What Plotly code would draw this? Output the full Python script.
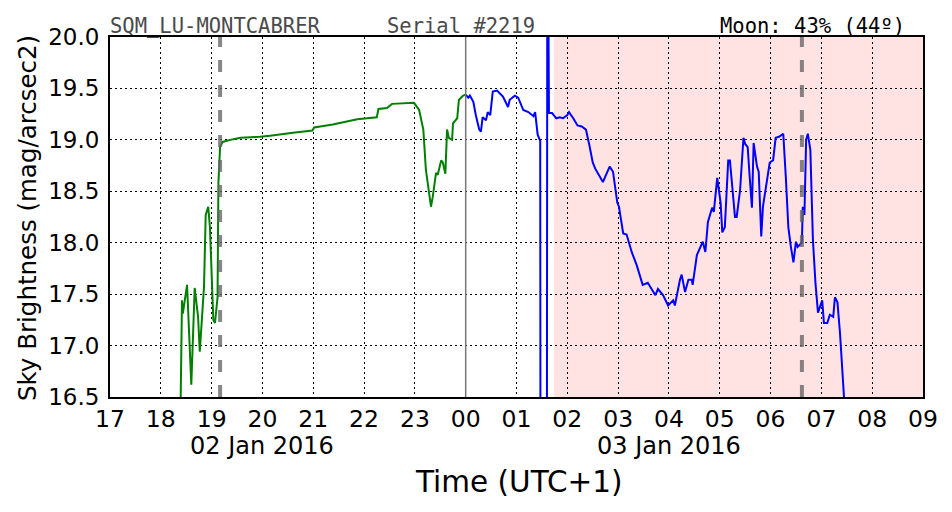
import plotly.graph_objects as go

# ---------------- data ----------------
green_times = ["2016-01-02 18:23", "2016-01-02 18:25", "2016-01-02 18:26", "2016-01-02 18:31",
               "2016-01-02 18:36", "2016-01-02 18:40", "2016-01-02 18:44", "2016-01-02 18:46",
               "2016-01-02 18:51", "2016-01-02 18:53", "2016-01-02 18:56", "2016-01-02 18:58",
               "2016-01-02 19:02", "2016-01-02 19:04", "2016-01-02 19:07", "2016-01-02 19:08",
               "2016-01-02 19:10", "2016-01-02 19:13", "2016-01-02 19:22", "2016-01-02 19:34",
               "2016-01-02 19:57", "2016-01-02 20:09", "2016-01-02 20:36", "2016-01-02 20:59",
               "2016-01-02 21:01", "2016-01-02 21:23", "2016-01-02 21:52", "2016-01-02 22:15",
               "2016-01-02 22:17", "2016-01-02 22:27", "2016-01-02 22:33", "2016-01-02 22:59",
               "2016-01-02 23:05", "2016-01-02 23:10", "2016-01-02 23:13", "2016-01-02 23:14",
               "2016-01-02 23:19", "2016-01-02 23:21", "2016-01-02 23:25", "2016-01-02 23:27",
               "2016-01-02 23:31", "2016-01-02 23:33", "2016-01-02 23:36", "2016-01-02 23:38",
               "2016-01-02 23:40", "2016-01-02 23:44", "2016-01-02 23:45", "2016-01-02 23:50",
               "2016-01-02 23:52", "2016-01-02 23:57", "2016-01-03 00:00"]
green_vals = [16.20, 17.44, 17.31, 17.59,
              16.62, 17.56, 17.28, 16.94,
              17.57, 18.27, 18.35, 18.15,
              17.25, 17.22, 17.47, 18.58,
              18.93, 18.98, 19.00, 19.02,
              19.03, 19.04, 19.07, 19.09,
              19.12, 19.15, 19.20, 19.22,
              19.30, 19.31, 19.35, 19.36,
              19.29, 19.10, 18.71, 18.64,
              18.35, 18.44, 18.68, 18.66,
              18.80, 18.78, 18.67, 19.10,
              19.02, 19.00, 19.16, 19.21,
              19.39, 19.43, 19.44]

blue_times = ["00:00", "00:03", "00:05", "00:09", "00:12", "00:16", "00:18", "00:20",
              "00:24", "00:26", "00:29", "00:32", "00:37", "00:44", "00:50", "00:52",
              "00:58", "01:02", "01:08", "01:14", "01:20", "01:22", "01:25", "01:28:00",
              "01:28:40", "01:35:30", "01:36:30", "01:38:20",
              "01:42", "01:47", "01:51", "01:55", "02:00", "02:02", "02:07", "02:12",
              "02:17", "02:22", "02:26", "02:30", "02:33", "02:39", "02:42", "02:50",
              "02:54", "02:59", "03:01", "03:06", "03:10", "03:16", "03:22", "03:29",
              "03:35", "03:44", "03:47", "03:53", "03:59", "04:05", "04:07", "04:13",
              "04:15", "04:19", "04:23", "04:27", "04:28", "04:33", "04:37", "04:40",
              "04:43", "04:46", "04:51", "04:53", "04:57", "04:59", "05:01", "05:03",
              "05:06", "05:10", "05:12", "05:18", "05:20", "05:24", "05:28", "05:30",
              "05:33", "05:35", "05:38", "05:40", "05:44", "05:46", "05:49", "05:51",
              "05:56", "05:59", "06:03", "06:06", "06:10", "06:15", "06:18", "06:21",
              "06:24", "06:27", "06:30", "06:32", "06:37", "06:38", "06:40", "06:42",
              "06:44", "06:47", "06:50", "06:53", "06:56", "07:01", "07:03", "07:07",
              "07:10", "07:14", "07:16", "07:19", "07:22", "07:24", "07:27", "07:29"]
blue_vals = [19.44, 19.41, 19.43, 19.37, 19.24, 19.10, 19.08, 19.22,
             19.19, 19.27, 19.24, 19.47, 19.48, 19.42, 19.32, 19.39,
             19.43, 19.41, 19.29, 19.27, 19.23, 19.27, 19.05, 18.99,
             12.00, 12.00, 22.00, 19.26,
             19.26, 19.21, 19.22, 19.21, 19.24, 19.27, 19.21, 19.14,
             19.13, 19.10, 18.95, 18.78, 18.72, 18.64, 18.59, 18.74,
             18.69, 18.39, 18.35, 18.09, 18.08, 17.91, 17.78, 17.59,
             17.61, 17.49, 17.55, 17.49, 17.39, 17.44, 17.39, 17.64,
             17.69, 17.52, 17.64, 17.64, 17.59, 17.88, 17.95, 18.01,
             17.91, 18.20, 18.34, 18.30, 18.63, 18.48, 18.39, 18.10,
             18.15, 18.80, 18.80, 18.25, 18.25, 18.51, 19.02, 18.96,
             18.93, 18.68, 18.34, 18.97, 18.74, 18.69, 18.06, 18.35,
             18.61, 18.78, 18.80, 19.02, 19.03, 19.06, 18.64, 18.15,
             17.96, 17.81, 18.01, 17.96, 18.00, 18.35, 18.27, 19.00,
             19.06, 18.90, 18.03, 17.61, 17.32, 17.44, 17.22, 17.22,
             17.30, 17.28, 17.47, 17.42, 17.12, 16.86, 16.54, 16.20]
blue_times = ["2016-01-03 " + t for t in blue_times]

x_range = ["2016-01-02 17:00", "2016-01-03 09:00"]
y_range = [16.5, 20.0]
y_ticks = [16.5, 17.0, 17.5, 18.0, 18.5, 19.0, 19.5, 20.0]
y_ticklabels = ["16.5", "17.0", "17.5", "18.0", "18.5", "19.0", "19.5", "20.0"]

moon_span = ["2016-01-03 01:44", "2016-01-03 09:00"]
dashed_events = ["2016-01-02 19:10", "2016-01-03 06:37"]
midnight = "2016-01-03 00:00"
date_labels = ["02 Jan 2016", "03 Jan 2016"]
date_label_pos = ["2016-01-02 20:00", "2016-01-03 04:00"]

station = "SQM_LU-MONTCABRER"
serial = "Serial #2219"
moon_text = "Moon: 43% (44º)"

# ---------------- figure ----------------
fig = go.Figure()
fig.add_trace(go.Scatter(x=green_times, y=green_vals, mode="lines",
                         line=dict(color="#008000", width=2), showlegend=False))
fig.add_trace(go.Scatter(x=blue_times, y=blue_vals, mode="lines",
                         line=dict(color="#0000ff", width=2), showlegend=False))

shapes = [
    dict(type="rect", xref="x", yref="paper", x0=moon_span[0], x1=moon_span[1], y0=0, y1=1,
         fillcolor="rgba(255,0,0,0.11)", line=dict(width=0), layer="below"),
    dict(type="line", xref="x", yref="paper", x0=midnight, x1=midnight, y0=0, y1=1,
         line=dict(color="#777777", width=1.5), layer="above"),
]
for t in dashed_events:
    shapes.append(dict(type="line", xref="x", yref="paper", x0=t, x1=t, y0=0, y1=1,
                       line=dict(color="rgba(100,100,100,0.78)", width=4, dash="12px,13px"),
                       layer="above"))

mono = "DejaVu Sans Mono, monospace"
sans = "DejaVu Sans, sans-serif"
annotations = [
    dict(text=station, xref="paper", yref="paper", x=0.0, y=1.0, xanchor="left", yanchor="bottom",
         showarrow=False, font=dict(family=mono, size=20.5, color="#4a4a4a"), yshift=-3, xshift=-2),
    dict(text=serial, xref="paper", yref="paper", x=(385 - 110) / 813, y=1.0, xanchor="left",
         yanchor="bottom", showarrow=False, font=dict(family=mono, size=20.5, color="#4a4a4a"), yshift=-3),
    dict(text=moon_text, xref="paper", yref="paper", x=(907 - 110) / 813, y=1.0, xanchor="right",
         yanchor="bottom", showarrow=False, font=dict(family=mono, size=20.5, color="#000000"), yshift=-3),
    dict(text="Time (UTC+1)", xref="paper", yref="paper", x=(519 - 110) / 813, y=-(482 - 397) / 360,
         xanchor="center", yanchor="middle", showarrow=False, font=dict(family=sans, size=29.5, color="black")),
    dict(text="Sky Brightness (mag/arcsec2)", xref="paper", yref="paper", x=(27 - 110) / 813,
         y=(397 - 218) / 360, xanchor="center", yanchor="middle", textangle=-90, showarrow=False,
         font=dict(family=sans, size=24.5, color="black")),
]
for lab, pos in zip(date_labels, date_label_pos):
    annotations.append(dict(text=lab, xref="x", yref="paper", x=pos, y=-(446 - 397) / 360,
                            xanchor="center", yanchor="middle", showarrow=False,
                            font=dict(family=sans, size=24, color="black")))

fig.update_layout(
    width=952, height=512,
    margin=dict(l=110, r=29, t=37, b=115, pad=0),
    paper_bgcolor="white", plot_bgcolor="white",
    shapes=shapes, annotations=annotations,
    xaxis=dict(type="date", range=x_range, tickformat="%H", dtick=3600000,
               tick0="2016-01-02 17:00", showgrid=True, gridcolor="black", gridwidth=1,
               griddash="2px,3px", showline=True, linecolor="black", linewidth=2, mirror=True,
               ticks="", zeroline=False, tickfont=dict(family=sans, size=23.5, color="black"),
               ticklabelstandoff=0),
    yaxis=dict(range=y_range, tickvals=y_ticks, ticktext=y_ticklabels, showgrid=True,
               gridcolor="black", gridwidth=1, griddash="2px,3px", showline=True,
               linecolor="black", linewidth=2, mirror=True, ticks="", zeroline=False,
               tickfont=dict(family=sans, size=23, color="black"), ticklabelstandoff=4),
)

fig.write_html("out.html")
